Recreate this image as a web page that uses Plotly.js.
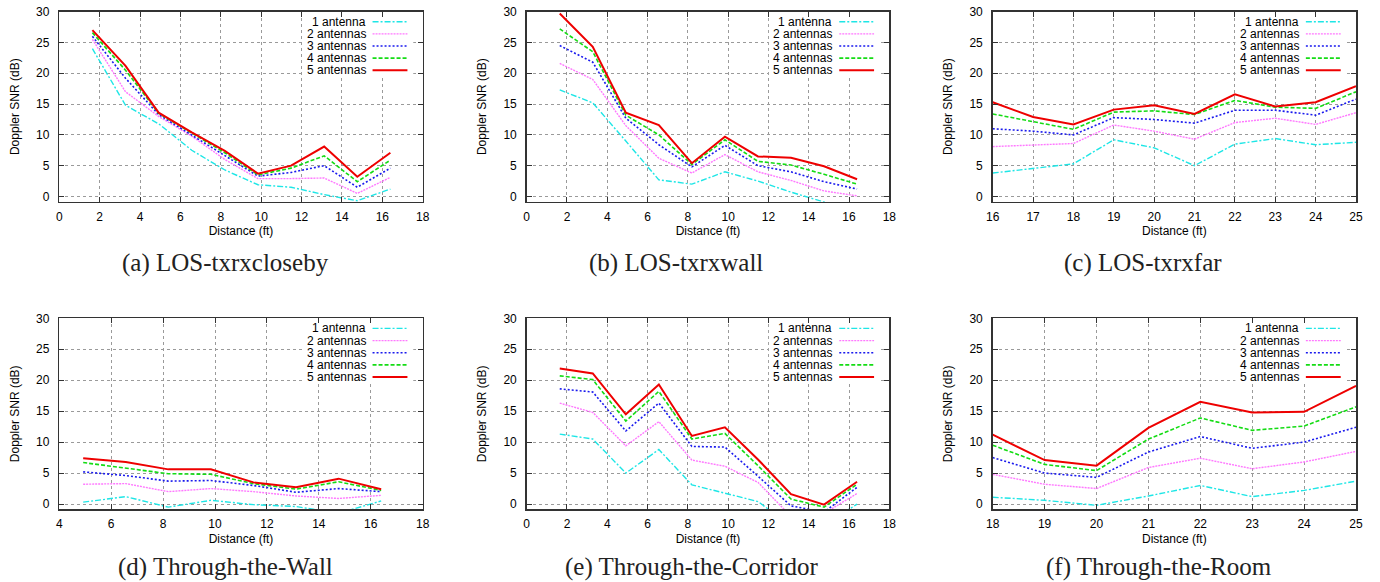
<!DOCTYPE html>
<html>
<head>
<meta charset="utf-8">
<script src="https://cdn.plot.ly/plotly-3.0.1.min.js"></script>
<style>html,body{margin:0;padding:0;background:#fff;}#chart{width:1380px;height:582px;}</style>
</head>
<body>
<div id="chart"></div>
<script>
// ---- data ----
const seriesNames = ['1 antenna', '2 antennas', '3 antennas', '4 antennas', '5 antennas'];
const captions = ['(a) LOS-txrxcloseby', '(b) LOS-txrxwall', '(c) LOS-txrxfar',
                  '(d) Through-the-Wall', '(e) Through-the-Corridor', '(f) Through-the-Room'];

const distNear = [1.64, 3.28, 4.92, 6.56, 8.2, 9.84, 11.48, 13.12, 14.76, 16.4];
const distWall = [4.92, 6.56, 8.2, 9.84, 11.48, 13.12, 14.76, 16.4];
const distFar  = [16, 17, 18, 19, 20, 21, 22, 23, 24, 25];
const distRoom = [18, 19, 20, 21, 22, 23, 24, 25];

// (a) LOS-txrxcloseby
const a1 = [24.0, 14.8, 11.8, 7.5, 4.3, 1.9, 1.5, 0.3, -0.7, 1.2];
const a2 = [25.5, 17.0, 13.0, 9.8, 6.0, 2.9, 2.9, 3.0, 0.5, 3.1];
const a3 = [26.0, 19.2, 13.3, 10.0, 6.6, 3.3, 3.9, 5.0, 1.5, 4.6];
const a4 = [26.6, 20.5, 13.5, 10.3, 7.1, 3.5, 4.6, 6.6, 2.4, 5.9];
const a5 = [27.0, 21.2, 13.6, 10.4, 7.4, 3.7, 5.0, 8.1, 3.2, 7.1];
// (b) LOS-txrxwall
const b1 = [17.3, 15.2, 9.0, 2.7, 2.0, 4.0, 2.5, 0.7, -0.9, -2.5];
const b2 = [21.6, 19.0, 11.5, 6.2, 3.8, 6.8, 4.0, 2.6, 0.9, 0.1];
const b3 = [24.5, 21.8, 12.7, 8.4, 4.8, 8.3, 5.0, 4.0, 2.4, 1.2];
const b4 = [27.2, 23.5, 13.2, 10.0, 5.2, 9.2, 5.7, 5.1, 3.6, 2.0];
const b5 = [29.7, 24.3, 13.6, 11.6, 5.4, 9.7, 6.5, 6.3, 4.9, 2.8];
// (c) LOS-txrxfar
const c1 = [3.8, 4.5, 5.3, 9.2, 7.9, 5.0, 8.5, 9.4, 8.4, 8.8];
const c2 = [8.1, 8.3, 8.6, 11.6, 10.6, 9.3, 12.0, 12.7, 11.7, 13.6];
const c3 = [11.0, 10.6, 10.0, 12.8, 12.5, 11.9, 14.0, 14.0, 13.2, 15.8];
const c4 = [13.4, 12.1, 10.9, 13.7, 13.9, 13.3, 15.6, 14.5, 14.3, 17.0];
const c5 = [15.3, 12.9, 11.7, 14.1, 14.8, 13.4, 16.6, 14.6, 15.3, 17.9];
// (d) Through-the-Wall
const d1 = [0.3, 1.2, -0.5, 0.6, -0.1, -0.4, -1.5, 0.5];
const d2 = [3.2, 3.3, 2.0, 2.5, 2.0, 1.3, 0.9, 1.4];
const d3 = [5.2, 4.6, 3.7, 3.8, 3.0, 1.9, 2.5, 2.0];
const d4 = [6.7, 5.8, 4.9, 4.8, 3.3, 2.4, 3.6, 2.2];
const d5 = [7.4, 6.8, 5.6, 5.6, 3.5, 2.7, 4.1, 2.4];
// (e) Through-the-Corridor
const e1 = [11.3, 10.5, 5.0, 8.8, 3.1, 1.7, 0.4, -3.5, -3.5, 0.0];
const e2 = [16.3, 14.8, 9.4, 13.3, 7.1, 6.1, 3.5, -2.0, -1.5, 1.7];
const e3 = [18.6, 18.1, 11.8, 16.3, 9.3, 9.2, 4.5, -0.3, -1.3, 2.7];
const e4 = [20.7, 20.1, 13.4, 18.2, 10.5, 11.4, 6.2, 0.8, -0.5, 3.2];
const e5 = [21.9, 21.1, 14.5, 19.3, 11.0, 12.4, 7.2, 1.6, -0.1, 3.6];
// (f) Through-the-Room
const f1 = [1.1, 0.6, -0.2, 1.3, 3.0, 1.2, 2.2, 3.7];
const f2 = [4.8, 3.2, 2.5, 5.9, 7.4, 5.7, 6.8, 8.5];
const f3 = [7.5, 5.0, 4.3, 8.4, 10.9, 9.0, 10.0, 12.4];
const f4 = [9.5, 6.4, 5.4, 10.5, 13.9, 11.9, 12.6, 15.7];
const f5 = [11.2, 7.1, 6.2, 12.3, 16.5, 14.8, 14.9, 19.1];

// ---- styles ----
const colors = ['#1ee6e6', '#ff78ff', '#1a1aee', '#14dc14', '#ee0000'];
const dashes = ['6px,2px,2px,2px', '2px,1px', '2px,2px', '4px,2px', 'solid'];
const widths = [1.4, 1.4, 1.6, 1.6, 2];

const panels = [
  {x: distNear, ys: [a1, a2, a3, a4, a5], range: [0, 18], dtick: 2},
  {x: distNear, ys: [b1, b2, b3, b4, b5], range: [0, 18], dtick: 2},
  {x: distFar,  ys: [c1, c2, c3, c4, c5], range: [16, 25], dtick: 1},
  {x: distWall, ys: [d1, d2, d3, d4, d5], range: [4, 18], dtick: 2},
  {x: distNear, ys: [e1, e2, e3, e4, e5], range: [0, 18], dtick: 2},
  {x: distRoom, ys: [f1, f2, f3, f4, f5], range: [18, 25], dtick: 1}
];
const yRange = [-0.85, 30];

const W = 1380, H = 582;
const colPx = [[59.3, 422.7], [526.7, 889.3], [992.7, 1356]];
const rowPx = [[11.7, 201.7], [318.3, 509.3]];
const captionX = [225, 676, 1143, 226, 692, 1159];
const captionY = [263, 567];

const traces = [];
const layout = {
  width: W, height: H,
  margin: {l: 0, r: 0, t: 0, b: 0},
  paper_bgcolor: '#fff', plot_bgcolor: '#fff',
  showlegend: false,
  font: {family: 'Liberation Sans, Arial, sans-serif', size: 12, color: '#000'},
  annotations: [], shapes: []
};

panels.forEach((p, i) => {
  const n = i + 1;
  const xa = n === 1 ? 'x' : 'x' + n;
  const ya = n === 1 ? 'y' : 'y' + n;
  const col = colPx[i % 3], row = rowPx[Math.floor(i / 3)];
  p.ys.forEach((y, k) => {
    traces.push({
      type: 'scatter', mode: 'lines', x: p.x, y: y, name: seriesNames[k],
      xaxis: xa, yaxis: ya,
      line: {color: colors[k], dash: dashes[k], width: widths[k]},
      hoverinfo: 'x+y+name'
    });
  });
  const axCommon = {
    showline: true, linecolor: '#333', linewidth: 1.5, mirror: 'ticks',
    ticks: 'inside', ticklen: 5, tickcolor: '#333', tickwidth: 1,
    showgrid: true, gridcolor: '#9a9a9a', griddash: 'dot', gridwidth: 1,
    zeroline: false, tickfont: {size: 12, color: '#000'}
  };
  layout['xaxis' + (n === 1 ? '' : n)] = Object.assign({}, axCommon, {
    domain: [col[0] / W, col[1] / W], anchor: ya,
    range: p.range, dtick: p.dtick, tick0: 0,
    ticklabelstandoff: 3,
    title: {text: 'Distance (ft)', font: {size: 12}, standoff: 4}
  });
  layout['yaxis' + (n === 1 ? '' : n)] = Object.assign({}, axCommon, {
    domain: [(H - row[1]) / H, (H - row[0]) / H], anchor: xa,
    range: yRange, dtick: 5, tick0: 0,
    ticklabelstandoff: 6,
    title: {text: 'Doppler SNR (dB)', font: {size: 12}, standoff: 14}
  });
  // legend backdrop (covers the grid like gnuplot's key), placed by fractions of the axis span
  const xs = p.range[1] - p.range[0], ys = yRange[1] - yRange[0];
  layout.shapes.push({
    type: 'rect', xref: xa, yref: ya, layer: 'between',
    x0: p.range[0] + 0.668 * xs, x1: p.range[0] + 0.974 * xs,
    y0: yRange[0] + 0.665 * ys, y1: yRange[0] + 0.995 * ys,
    fillcolor: '#fff', line: {width: 0}
  });
  // custom key: text then sample line (gnuplot style)
  seriesNames.forEach((name, k) => {
    const yy = 0.947 - k * 0.0637;
    layout.annotations.push({
      xref: xa + ' domain', yref: ya + ' domain', x: 0.846, y: yy,
      xanchor: 'right', yanchor: 'middle', text: name, showarrow: false,
      borderpad: 0, font: {size: 12, color: '#000'}
    });
    layout.shapes.push({
      type: 'line', xref: xa + ' domain', yref: ya + ' domain', layer: 'above',
      x0: 0.862, x1: 0.958, y0: yy, y1: yy,
      line: {color: colors[k], dash: dashes[k], width: widths[k]}
    });
  });
  // caption
  layout.annotations.push({
    xref: 'paper', yref: 'paper', x: captionX[i] / W, y: (H - captionY[Math.floor(i / 3)]) / H,
    xanchor: 'center', yanchor: 'middle', text: captions[i], showarrow: false,
    font: {family: 'Liberation Serif, Times New Roman, serif', size: 25, color: '#222'}
  });
});

Plotly.newPlot('chart', traces, layout, {staticPlot: true, displayModeBar: false});
</script>
</body>
</html>
